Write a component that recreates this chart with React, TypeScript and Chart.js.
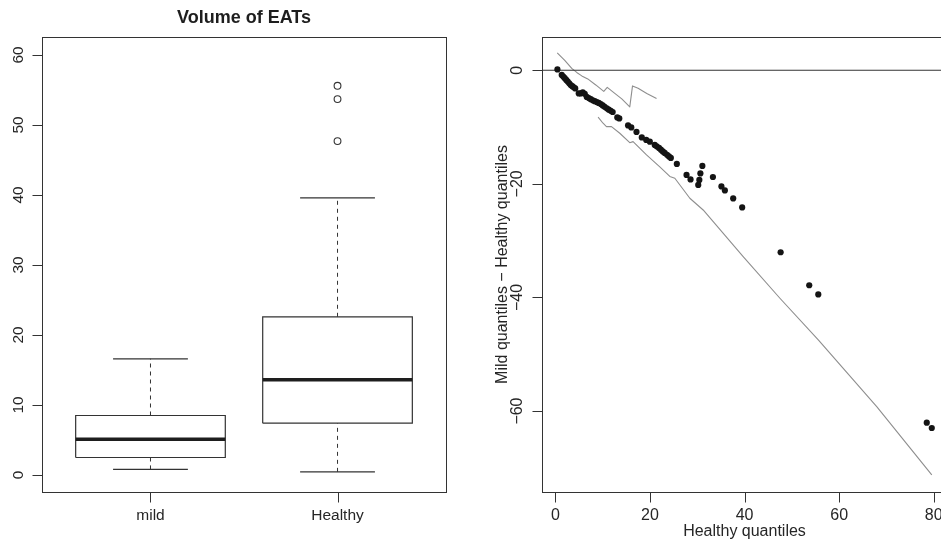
import React, { useEffect, useRef } from 'react';
import { Chart, registerables } from 'chart.js';

Chart.register(...registerables);

// ---------- Left panel: boxplot data ----------
const categories = ['mild', 'Healthy'];
const whiskerLow = [0.8, 0.45];
const quartile1 = [2.5, 7.4];
const medians = [5.1, 13.6];
const quartile3 = [8.5, 22.6];
const whiskerHigh = [16.6, 39.6];
const healthyOutliers = [47.7, 53.7, 55.6];
const boxYTicks = [0, 10, 20, 30, 40, 50, 60];

// ---------- Right panel: shift plot data ----------
const healthyQuantiles = [
  0.42, 1.33, 1.65, 1.97, 2.29, 2.6, 2.92, 3.24, 3.56, 3.87, 4.19,
  4.93, 5.35, 5.78, 6.2, 6.62, 7.05, 7.47, 7.9, 8.32, 8.74, 9.16, 9.59,
  10.0, 10.4, 10.86, 11.28, 11.7, 12.1, 13.08, 13.5, 15.36, 16.04, 17.14,
  18.26, 19.2, 19.96, 21.0, 21.4, 21.9, 22.3, 22.7, 23.1, 23.6, 24.0, 24.4,
  25.67, 27.72, 28.57, 30.2, 30.43, 30.65, 31.07, 33.3, 35.1, 35.83, 37.59,
  39.49, 47.62, 53.67, 55.58, 78.52, 79.58,
];
const quantileDiffs = [
  0.14, -0.83, -1.1, -1.4, -1.7, -2.0, -2.3, -2.6, -2.8, -3.0, -3.2,
  -4.08, -4.08, -3.9, -4.15, -4.7, -4.9, -5.1, -5.3, -5.45, -5.6, -5.75, -5.95,
  -6.2, -6.45, -6.7, -6.95, -7.15, -7.35, -8.31, -8.49, -9.72, -10.07, -10.86,
  -11.83, -12.27, -12.57, -13.15, -13.4, -13.68, -13.98, -14.3, -14.56, -14.88, -15.18, -15.44,
  -16.5, -18.43, -19.23, -20.19, -19.31, -18.17, -16.85, -18.8, -20.46, -21.16, -22.57,
  -24.15, -32.04, -37.85, -39.47, -62.04, -62.98,
];
const upperBandX = [0.38, 1.97, 3.45, 4.51, 5.57, 6.84, 8.53, 10.22, 10.96, 12.55, 14.03, 15.72, 16.3, 17.48, 19.32, 21.38];
const upperBandY = [3.05, 1.73, 0.32, -0.39, -1.0, -1.53, -2.59, -3.73, -3.03, -4.08, -5.05, -6.46, -2.76, -3.17, -4.08, -4.96];
const lowerBandX = [9.02, 10.07, 10.79, 11.85, 13.61, 15.72, 16.42, 19.26, 22.07, 24.19, 25.25, 28.42, 31.24, 39.7, 47.47, 55.58, 67.94, 79.58];
const lowerBandY = [-8.27, -9.33, -9.93, -9.93, -11.09, -12.75, -12.57, -14.91, -17.02, -18.7, -19.01, -22.54, -24.6, -32.82, -40.14, -47.48, -59.23, -71.25];
const qqXTicks = [0, 20, 40, 60, 80];
const qqYTicks = [-60, -40, -20, 0];
const qqXRange = [-2.84, 82.8];
const qqYRange = [-74.25, 5.85];
const zeroLineY = 0;

const FONT = "'Liberation Sans', Arial, Helvetica, sans-serif";
const INK = '#262626';
const AXIS = '#333333';
const TICK_LEN = 10;

// Frame around the plot region plus R-style outward tick marks
const framePlugin = {
  id: 'frame',
  afterDraw(chart: any) {
    const { ctx, chartArea: a, scales } = chart;
    const L = Math.round(a.left) + 0.5;
    const T = Math.round(a.top) + 0.5;
    const R = Math.round(a.right) + 0.5;
    const B = Math.round(a.bottom) + 0.5;
    ctx.save();
    ctx.strokeStyle = AXIS;
    ctx.lineWidth = 1;
    ctx.strokeRect(L, T, R - L, B - T);
    ctx.beginPath();
    const xs = scales.x;
    xs.ticks.forEach((t: any) => {
      const px = Math.round(xs.getPixelForValue(t.value)) + 0.5;
      ctx.moveTo(px, B);
      ctx.lineTo(px, B + TICK_LEN);
    });
    const ys = scales.y;
    ys.ticks.forEach((t: any) => {
      const py = Math.round(ys.getPixelForValue(t.value)) + 0.5;
      ctx.moveTo(L, py);
      ctx.lineTo(L - TICK_LEN, py);
    });
    ctx.stroke();
    ctx.restore();
  },
};

const hiddenGrid = { display: true, drawOnChartArea: false, drawTicks: true, tickLength: TICK_LEN, color: 'rgba(0,0,0,0)' };

const lineDs = (data: { x: number; y: number }[], extra: any = {}) => ({
  type: 'scatter',
  data,
  showLine: true,
  pointRadius: 0,
  pointHoverRadius: 0,
  borderColor: AXIS,
  borderWidth: 1.2,
  fill: false,
  tension: 0,
  borderJoinStyle: 'miter',
  ...extra,
});

function boxConfig(): any {
  const datasets: any[] = [];
  datasets.push({
    type: 'scatter',
    data: healthyOutliers.map((v) => ({ x: 2, y: v })),
    pointStyle: 'circle',
    pointRadius: 3.4,
    backgroundColor: '#ffffff',
    borderColor: AXIS,
    borderWidth: 1.1,
  });
  categories.forEach((_, i) => {
    const x = i + 1;
    const hw = 0.4;
    const cw = 0.2;
    datasets.push(lineDs([{ x: x - hw, y: medians[i] }, { x: x + hw, y: medians[i] }], { borderWidth: 3.6, borderColor: '#1e1e1e', borderCapStyle: 'butt' }));
    datasets.push(lineDs([
      { x: x - hw, y: quartile1[i] }, { x: x + hw, y: quartile1[i] }, { x: x + hw, y: quartile3[i] },
      { x: x - hw, y: quartile3[i] }, { x: x - hw, y: quartile1[i] },
    ]));
    datasets.push(lineDs([{ x, y: quartile3[i] }, { x, y: whiskerHigh[i] }], { borderDash: [4, 4], borderWidth: 1 }));
    datasets.push(lineDs([{ x, y: whiskerLow[i] }, { x, y: quartile1[i] }], { borderDash: [4, 4], borderWidth: 1 }));
    datasets.push(lineDs([{ x: x - cw, y: whiskerHigh[i] }, { x: x + cw, y: whiskerHigh[i] }]));
    datasets.push(lineDs([{ x: x - cw, y: whiskerLow[i] }, { x: x + cw, y: whiskerLow[i] }]));
  });
  return {
    type: 'scatter',
    data: { datasets },
    plugins: [framePlugin],
    options: {
      animation: false,
      responsive: false,
      events: [],
      layout: { padding: { left: 0, right: 24, top: 0, bottom: 0 } },
      plugins: {
        legend: { display: false },
        tooltip: { enabled: false },
        title: {
          display: true,
          text: 'Volume of EATs',
          fullSize: false,
          color: '#1e1e1e',
          font: { family: FONT, size: 18, weight: 'bold' },
          padding: { top: 7.2, bottom: 8.2 },
        },
      },
      scales: {
        x: {
          type: 'linear',
          min: 0.42,
          max: 2.58,
          afterBuildTicks: (s: any) => { s.ticks = categories.map((_, i) => ({ value: i + 1 })); },
          afterFit: (s: any) => { s.height = 49; },
          ticks: {
            callback: (_v: any, i: number) => categories[i],
            color: INK,
            font: { family: FONT, size: 15.5 },
            padding: 4,
            maxRotation: 0,
            minRotation: 0,
          },
          grid: hiddenGrid,
          border: { display: false },
        },
        y: {
          type: 'linear',
          min: -2.43,
          max: 62.57,
          afterBuildTicks: (s: any) => { s.ticks = boxYTicks.map((v) => ({ value: v })); },
          afterFit: (s: any) => { s.width = 42; },
          ticks: {
            minRotation: 90,
            maxRotation: 90,
            crossAlign: 'center',
            padding: 4.5,
            color: INK,
            font: { family: FONT, size: 15.5 },
          },
          grid: hiddenGrid,
          border: { display: false },
        },
      },
    },
  };
}

function qqConfig(): any {
  const pts = healthyQuantiles.map((x, i) => ({ x, y: quantileDiffs[i] }));
  const upper = upperBandX.map((x, i) => ({ x, y: upperBandY[i] }));
  const lower = lowerBandX.map((x, i) => ({ x, y: lowerBandY[i] }));
  const datasets: any[] = [
    {
      type: 'scatter',
      data: pts,
      pointStyle: 'circle',
      pointRadius: 3.1,
      backgroundColor: '#141414',
      borderColor: '#141414',
      borderWidth: 0,
    },
    lineDs([{ x: qqXRange[0], y: zeroLineY }, { x: qqXRange[1], y: zeroLineY }], { borderColor: AXIS, borderWidth: 1.2 }),
    lineDs(upper, { borderColor: '#8e8e8e', borderWidth: 1.1, borderJoinStyle: 'round' }),
    lineDs(lower, { borderColor: '#8e8e8e', borderWidth: 1.1, borderJoinStyle: 'round' }),
  ];
  return {
    type: 'scatter',
    data: { datasets },
    plugins: [framePlugin],
    options: {
      animation: false,
      responsive: false,
      events: [],
      layout: { padding: { left: 0, right: 8, top: 37, bottom: 0 } },
      plugins: { legend: { display: false }, tooltip: { enabled: false }, title: { display: false } },
      scales: {
        x: {
          type: 'linear',
          min: qqXRange[0],
          max: qqXRange[1],
          afterBuildTicks: (s: any) => { s.ticks = qqXTicks.map((v) => ({ value: v })); },
          afterFit: (s: any) => { s.height = 49; },
          ticks: { color: INK, font: { family: FONT, size: 16 }, padding: 4, maxRotation: 0, minRotation: 0 },
          title: { display: true, text: 'Healthy quantiles', color: INK, font: { family: FONT, size: 16 }, padding: { top: 0, bottom: 0 } },
          grid: hiddenGrid,
          border: { display: false },
        },
        y: {
          type: 'linear',
          min: qqYRange[0],
          max: qqYRange[1],
          afterBuildTicks: (s: any) => { s.ticks = qqYTicks.map((v) => ({ value: v })); },
          afterFit: (s: any) => { s.width = 72; },
          ticks: {
            minRotation: 90,
            maxRotation: 90,
            crossAlign: 'center',
            padding: 1,
            color: INK,
            font: { family: FONT, size: 16 },
            callback: (v: any) => String(v).replace('-', '\u2212'),
          },
          title: {
            display: true,
            text: 'Mild quantiles \u2212 Healthy quantiles',
            color: INK,
            font: { family: FONT, size: 16 },
            padding: { top: 23.4, bottom: 0 },
          },
          grid: hiddenGrid,
          border: { display: false },
        },
      },
    },
  };
}

export default function App() {
  const leftRef = useRef<HTMLCanvasElement | null>(null);
  const rightRef = useRef<HTMLCanvasElement | null>(null);

  useEffect(() => {
    const charts: Chart[] = [];
    if (leftRef.current) charts.push(new Chart(leftRef.current, boxConfig()));
    if (rightRef.current) charts.push(new Chart(rightRef.current, qqConfig()));
    return () => charts.forEach((c) => c.destroy());
  }, []);

  return (
    <div style={{ position: 'absolute', left: 0, top: 0, width: 941, height: 541, overflow: 'hidden', background: '#ffffff' }}>
      <canvas ref={leftRef} width={470} height={541} style={{ position: 'absolute', left: 0, top: 0, width: 470, height: 541 }} />
      <canvas ref={rightRef} width={485} height={541} style={{ position: 'absolute', left: 470, top: 0, width: 485, height: 541 }} />
    </div>
  );
}
